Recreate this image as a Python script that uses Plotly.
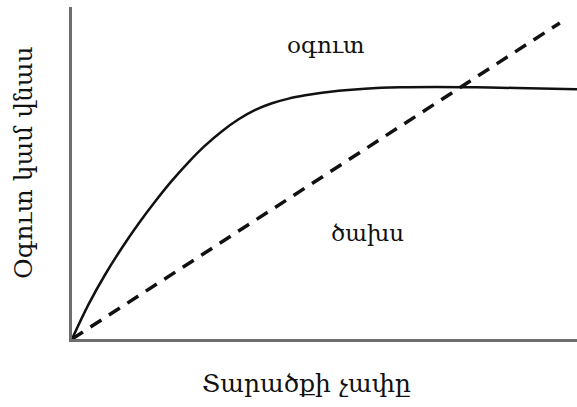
import plotly.graph_objects as go

# Benefit curve, x: territory size, y: value
benefit_x = [0, 3.3, 6.6, 9.9, 13.2, 16.5, 19.8, 23.1, 26.4, 29.7, 33.0, 36.3, 39.6,
             42.9, 46.2, 49.5, 52.8, 58.0, 65.0, 72.0, 80.0, 88.0, 100]
benefit_y = [0, 10.5, 19.5, 27.5, 34.8, 41.5, 47.7, 53.3, 58.3, 62.6, 66.2, 69.0, 71.0,
             72.4, 73.4, 74.2, 74.8, 75.4, 75.8, 75.9, 75.8, 75.6, 75.2]
# Cost line
cost_x = [0, 96.6]
cost_y = [0, 95.2]

label_benefit = "օգուտ"
label_cost = "ծախս"
x_title = "Տարածքի չափը"
y_title = "Օգուտ կամ վնաս"

font = "DejaVu Serif, serif"

fig = go.Figure()
fig.add_trace(go.Scatter(x=benefit_x, y=benefit_y, mode="lines",
                         line=dict(color="#111111", width=2.5, shape="spline", smoothing=1.0),
                         hoverinfo="skip"))
fig.add_trace(go.Scatter(x=cost_x, y=cost_y, mode="lines",
                         line=dict(color="#111111", width=3.5, dash="13px,9px"),
                         hoverinfo="skip"))

fig.add_annotation(x=50.1, y=88.5, text=label_benefit, showarrow=False,
                   font=dict(family=font, size=23, color="#111111"))
fig.add_annotation(x=58.6, y=32, text=label_cost, showarrow=False,
                   font=dict(family=font, size=23, color="#111111"))

# axis titles as annotations (positioned like the reference)
fig.add_annotation(x=0.465, y=-0.135, xref="paper", yref="paper", text=x_title,
                   showarrow=False, xanchor="center", yanchor="middle",
                   font=dict(family=font, size=25, color="#111111"))
fig.add_annotation(x=-0.097, y=0.53, xref="paper", yref="paper", text=y_title,
                   showarrow=False, textangle=-90, xanchor="center", yanchor="middle",
                   font=dict(family=font, size=25, color="#111111"))

fig.update_layout(
    width=577, height=407,
    margin=dict(l=72, r=0, t=7, b=68),
    paper_bgcolor="white", plot_bgcolor="white",
    showlegend=False,
    xaxis=dict(range=[0, 100], showgrid=False, zeroline=False, showticklabels=False,
               ticks="", showline=True, linecolor="#6e6e6e", linewidth=3, automargin=False),
    yaxis=dict(range=[0, 100], showgrid=False, zeroline=False, showticklabels=False,
               ticks="", showline=True, linecolor="#6e6e6e", linewidth=3, automargin=False),
)

fig.write_html("out.html", config={"displayModeBar": False},
               post_script="document.body.style.margin='0';")
